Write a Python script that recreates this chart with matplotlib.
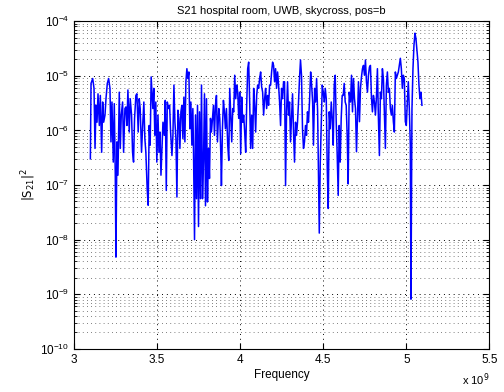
import matplotlib
matplotlib.use("Agg")
import matplotlib.pyplot as plt
import numpy as np

# frecuencia (GHz)
freq_ghz = [
    3.098, 3.102, 3.112, 3.120, 3.126, 3.132, 3.138, 3.144, 3.152, 3.158,
    3.166, 3.172, 3.178, 3.186, 3.192, 3.200, 3.208, 3.216, 3.222, 3.228,
    3.236, 3.242, 3.248, 3.252, 3.258, 3.264, 3.272, 3.278, 3.284, 3.292,
    3.298, 3.306, 3.312, 3.318, 3.324, 3.332, 3.338, 3.346, 3.352, 3.358,
    3.364, 3.372, 3.378, 3.386, 3.392, 3.398, 3.406, 3.412, 3.420, 3.426,
    3.432, 3.440, 3.446, 3.452, 3.458, 3.464,
    3.474, 3.480, 3.486, 3.492, 3.498, 3.505, 3.511, 3.517, 3.523, 3.529,
    3.535, 3.543, 3.549, 3.555, 3.561, 3.569, 3.575, 3.581, 3.589, 3.595,
    3.601, 3.607, 3.613, 3.619, 3.625, 3.631, 3.637, 3.643, 3.649, 3.655,
    3.661, 3.667, 3.673, 3.679, 3.685, 3.691, 3.697, 3.703, 3.709, 3.715,
    3.719, 3.725, 3.731, 3.737, 3.743, 3.749, 3.755, 3.761, 3.767, 3.773,
    3.779, 3.785, 3.791, 3.797, 3.803, 3.809, 3.815, 3.821, 3.827, 3.833,
    3.839, 3.845, 3.851, 3.857, 3.863,
    3.871, 3.877, 3.883, 3.887, 3.893, 3.899, 3.905, 3.911, 3.917, 3.925,
    3.931, 3.937, 3.943, 3.949, 3.955, 3.961, 3.967, 3.973, 3.979, 3.985,
    3.991, 3.997, 4.003, 4.009, 4.015, 4.021, 4.027, 4.033, 4.039, 4.045,
    4.051, 4.057, 4.063, 4.069, 4.075, 4.081, 4.087, 4.093, 4.099, 4.105,
    4.111, 4.117, 4.123, 4.129, 4.135, 4.141, 4.147, 4.153, 4.159, 4.165,
    4.171, 4.177, 4.183, 4.189, 4.195, 4.201, 4.207, 4.213, 4.219, 4.225,
    4.231, 4.237, 4.243, 4.249, 4.255, 4.261,
    4.267, 4.273, 4.279, 4.285, 4.291, 4.297, 4.303, 4.309, 4.315, 4.321,
    4.327, 4.333, 4.339, 4.345, 4.351, 4.357, 4.363, 4.369, 4.375, 4.381,
    4.387, 4.393, 4.399, 4.405, 4.411, 4.417, 4.424, 4.430, 4.436, 4.441,
    4.448, 4.454, 4.460, 4.466, 4.472, 4.476, 4.482, 4.488, 4.494, 4.500,
    4.506, 4.512, 4.518, 4.524, 4.530, 4.536, 4.542, 4.548, 4.554, 4.560,
    4.566, 4.572, 4.578, 4.584, 4.590, 4.596, 4.602, 4.608, 4.614, 4.620,
    4.626, 4.632, 4.638, 4.644, 4.650, 4.656,
    4.664, 4.670, 4.676, 4.682, 4.688, 4.694, 4.700, 4.706, 4.712, 4.718,
    4.724, 4.730, 4.736, 4.742, 4.748, 4.754, 4.760, 4.766, 4.772, 4.778,
    4.784, 4.790, 4.796, 4.802, 4.808, 4.814, 4.820, 4.826, 4.832, 4.838,
    4.844, 4.850, 4.856, 4.862, 4.868, 4.874, 4.880, 4.886, 4.892, 4.898,
    4.904, 4.910, 4.916, 4.922, 4.928, 4.934, 4.940, 4.946, 4.952, 4.958,
    4.964, 4.970, 4.976, 4.982, 4.988, 4.994, 5.000, 5.006, 5.012, 5.018,
    5.024, 5.028, 5.034, 5.040, 5.046, 5.052, 5.058, 5.064, 5.070, 5.076,
    5.082, 5.088, 5.094,
]

# exponente log10 de |S21|^2
s21_exp = [
    -6.52, -5.14, -5.05, -5.23, -6.33, -5.54, -5.85, -5.33, -5.91, -5.36,
    -6.40, -5.48, -5.85, -5.72, -5.42, -5.14, -5.05, -5.23, -6.21, -5.48,
    -6.58, -5.51, -6.82, -8.32, -6.21, -6.82, -5.30, -6.33, -5.72, -5.48,
    -6.40, -5.60, -5.57, -5.91, -5.26, -6.03, -5.42, -5.72, -6.40, -6.58,
    -5.78, -5.36, -5.33, -6.03, -5.42, -5.60, -6.40, -5.97, -5.48, -6.15,
    -6.40, -7.07, -7.37, -5.91, -6.27, -5.02,
    -5.60, -5.23, -6.09, -5.48, -6.58, -5.72, -6.40, -6.03, -6.82, -6.33,
    -5.85, -6.09, -5.45, -7.10, -5.48, -5.60, -5.54, -6.03, -6.46, -6.09,
    -5.17, -5.85, -6.15, -7.22, -5.63, -5.78, -6.33, -5.66, -5.54, -6.15,
    -5.39, -6.21, -5.11, -4.87, -5.05, -4.93, -5.97, -5.48, -6.27, -5.60,
    -6.40, -8.00, -5.72, -7.25, -5.54, -7.76, -5.66, -7.25, -5.17, -7.25,
    -6.58, -5.33, -7.38, -5.42, -7.31, -6.33, -6.88, -5.78, -6.03, -5.78,
    -5.54, -6.09, -5.54, -5.36, -6.21,
    -5.60, -5.78, -6.40, -7.01, -5.97, -5.45, -5.66, -5.97, -5.60, -6.27,
    -6.55, -5.23, -5.72, -6.21, -5.60, -5.66, -4.99, -5.42, -5.17, -5.30,
    -5.78, -5.30, -6.43, -5.39, -5.85, -5.72, -6.03, -6.40, -5.54, -4.87,
    -4.75, -5.48, -6.33, -5.72, -6.33, -5.23, -5.54, -6.03, -5.36, -5.17,
    -5.23, -5.05, -4.93, -5.20, -5.30, -5.72, -5.42, -5.23, -5.60, -5.36,
    -5.54, -5.17, -5.17, -4.93, -4.75, -4.81, -5.11, -4.87, -5.23, -4.93,
    -5.17, -5.48, -5.91, -5.23, -5.42, -5.11,
    -5.11, -7.01, -5.66, -5.11, -5.72, -5.48, -6.21, -5.78, -5.33, -6.03,
    -6.58, -5.85, -6.09, -5.85, -5.48, -5.05, -4.71, -4.99, -5.97, -6.33,
    -6.21, -5.91, -6.09, -5.66, -5.85, -5.48, -4.93, -5.17, -5.48, -6.27,
    -5.23, -5.48, -5.05, -5.66, -6.94, -7.88, -6.58, -5.91, -5.17, -5.30,
    -5.48, -5.23, -5.42, -6.70, -7.43, -5.66, -5.97, -5.48, -5.78, -6.27,
    -5.17, -4.99, -5.85, -6.46, -7.19, -5.91, -6.58, -5.78, -5.36, -5.36,
    -5.14, -5.48, -5.54, -6.09, -6.98, -5.30,
    -5.48, -4.99, -5.66, -5.05, -5.42, -5.60, -6.39, -5.72, -5.11, -5.84,
    -5.23, -5.02, -4.87, -4.81, -4.99, -4.71, -5.11, -5.30, -4.99, -4.84,
    -4.81, -5.39, -5.66, -5.36, -5.48, -5.72, -5.39, -4.87, -5.78, -6.46,
    -5.30, -5.42, -4.87, -5.05, -5.72, -6.33, -5.17, -4.93, -5.30, -5.23,
    -5.60, -5.72, -5.54, -5.84, -6.03, -4.93, -5.05, -4.99, -4.93, -4.81,
    -4.68, -4.87, -5.23, -4.99, -5.05, -5.84, -5.91, -5.48, -5.11, -5.60,
    -6.27, -9.09, -5.60, -4.87, -4.44, -4.22, -4.32, -4.53, -4.75, -5.17,
    -5.42, -5.30, -5.54,
]

xtick_vals = [3, 3.5, 4, 4.5, 5, 5.5]
xtick_labels = ["3", "3.5", "4", "4.5", "5", "5.5"]

plt.rcParams["font.family"] = ["Liberation Sans", "DejaVu Sans"]

s21 = 10.0 ** np.array(s21_exp)

fig = plt.figure(figsize=(5.04, 3.92), dpi=100)
ax = fig.add_axes([0.147, 0.110, 0.824, 0.836])

ax.semilogy(freq_ghz, s21, color="#0000ff", linewidth=1.1)

ax.set_xlim(3, 5.5)
ax.set_ylim(1e-10, 1e-4)
ax.set_xticks(xtick_vals)
ax.set_xticklabels(xtick_labels)

# rejilla punteada estilo MATLAB (puntos espaciados)
ax.grid(True, which="major", linestyle=(0, (1, 4)), color="black", linewidth=0.7)
ax.grid(True, which="minor", axis="y", linestyle=(0, (1, 4)), color="#555555",
        linewidth=0.6)
ax.set_axisbelow(True)

ax.tick_params(which="both", direction="in", top=True, right=True, labelsize=8.5)
ax.tick_params(which="major", length=4)
ax.tick_params(which="minor", length=2)
for s in ax.spines.values():
    s.set_linewidth(0.8)

ax.set_title("S21 hospital room, UWB, skycross, pos=b", fontsize=8, pad=5)
ax.set_xlabel("Frequency", fontsize=8.5, labelpad=2)
ax.set_ylabel(r"$|\mathrm{S}_{21}|^2$", fontsize=8.5, labelpad=2)
ax.text(1.0, -0.07, r"x 10$^9$", transform=ax.transAxes, fontsize=8,
        ha="right", va="top")

fig.savefig("out.png", dpi=100)
